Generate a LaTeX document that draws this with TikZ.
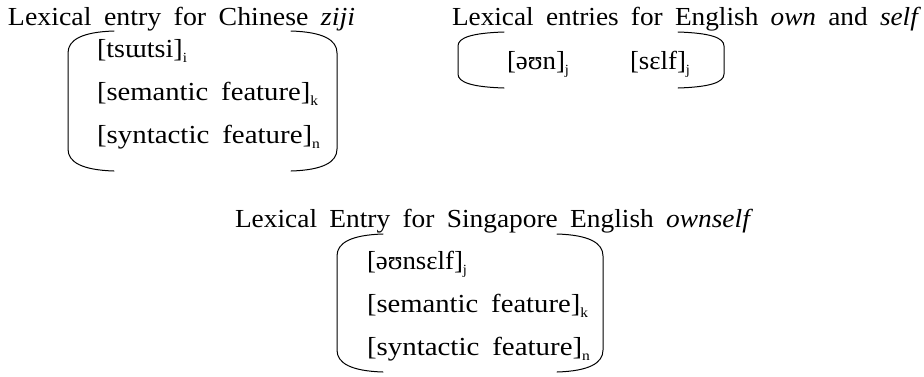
\documentclass[tikz,border=0pt]{standalone}
\usepackage{fontspec}
\setmainfont{Liberation Serif}

% lowered small index after a bracketed form
\newcommand\idx[1]{\raisebox{-0.22em}{\fontsize{14pt}{14pt}\selectfont #1}}
% set a line to a given width, keeping its height
\newcommand\fitw[2]{\resizebox{#1}{\height}{#2}}
% a rounded pair of brackets: left x, right x, top y, bottom y, corner depth
\newcommand\lexbrackets[5]{%
  \draw[brk] (#1+46,#3) .. controls (#1+14,#3+1) and (#1,#3+0.4*#5) .. (#1,#3+#5)
    -- (#1,#4-#5) .. controls (#1,#4-0.4*#5) and (#1+14,#4-1) .. (#1+46,#4);
  \draw[brk] (#2-46,#3) .. controls (#2-14,#3+1) and (#2,#3+0.4*#5) .. (#2,#3+#5)
    -- (#2,#4-#5) .. controls (#2,#4-0.4*#5) and (#2-14,#4-1) .. (#2-46,#4);
}

\tikzset{
  lbl/.style={anchor=base west, inner sep=0pt, outer sep=0pt,
    font=\fontsize{26pt}{26pt}\selectfont},
  brk/.style={line width=1pt, line cap=round, black},
}

\begin{document}
\begin{tikzpicture}[x=1pt, y=-1pt]
\useasboundingbox (0,0) rectangle (924,376);

% Chinese ziji
\node[lbl] (t1) at (8,25) {\fitw{347pt}{\spaceskip=.45em Lexical entry for Chinese \textit{ziji}}};
\node[lbl] (z1) at (97,57) {\fitw{90pt}{[tsɯtsi]\idx{i}}};
\node[lbl] (z2) at (97,100) {\fitw{221pt}{\spaceskip=.45em [semantic feature]\idx{k}}};
\node[lbl] (z3) at (97,143) {\fitw{223pt}{\spaceskip=.45em [syntactic feature]\idx{n}}};
\lexbrackets{68}{337}{31}{171}{22}

% English own and self
\node[lbl] (t2) at (452,25) {\fitw{469pt}{\spaceskip=.45em Lexical entries for English \textit{own} and \textit{self}}};
\node[lbl] (e1) at (507,69) {\fitw{62pt}{[əʊn]\idx{j}}};
\node[lbl] (e2) at (630,69) {\fitw{60pt}{[sɛlf]\idx{j}}};
\lexbrackets{458}{724}{32}{88}{14}

% Singapore English ownself
\node[lbl] (t3) at (235,227) {\fitw{518pt}{\spaceskip=.45em Lexical Entry for Singapore English \textit{ownself}}};
\node[lbl] (s1) at (367,269) {\fitw{100pt}{[əʊnsɛlf]\idx{j}}};
\node[lbl] (s2) at (367,312) {\fitw{221pt}{\spaceskip=.45em [semantic feature]\idx{k}}};
\node[lbl] (s3) at (367,355) {\fitw{223pt}{\spaceskip=.45em [syntactic feature]\idx{n}}};
\lexbrackets{337}{603}{234}{372}{22}
\end{tikzpicture}
\end{document}
